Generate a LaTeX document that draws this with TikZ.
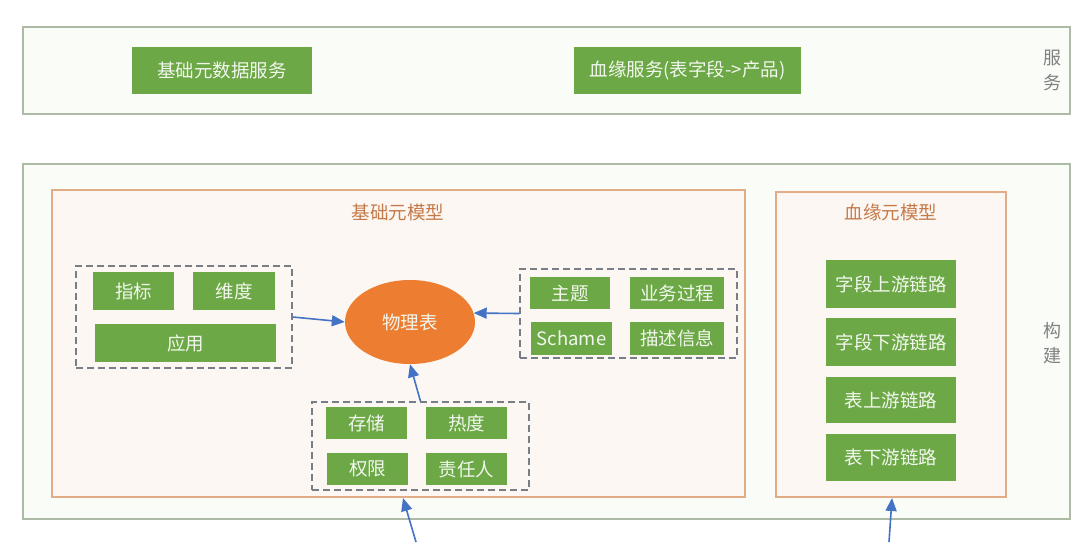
\documentclass[tikz,border=0pt]{standalone}
\usepackage{fontspec}
\setmainfont{Noto Sans CJK SC}
\usetikzlibrary{arrows.meta,shapes.geometric,calc}
\definecolor{gbox}{RGB}{108,168,70}
\definecolor{gtext}{RGB}{242,247,238}
\definecolor{panelfill}{RGB}{249,252,247}
\definecolor{panelline}{RGB}{172,186,166}
\definecolor{ofill}{RGB}{253,247,243}
\definecolor{oline}{RGB}{226,172,134}
\definecolor{otitle}{RGB}{196,122,72}
\definecolor{ell}{RGB}{237,125,49}
\definecolor{arrc}{RGB}{68,114,196}
\definecolor{sidec}{RGB}{128,128,128}
\definecolor{dashc}{RGB}{120,126,134}
\tikzset{
  gnode/.style={draw=none,fill=gbox,text=gtext,inner sep=0pt,font=\fontsize{18.5}{21}\selectfont},
  panel/.style={draw=panelline,fill=panelfill,line width=1.8pt},
  obox/.style={draw=oline,fill=ofill,line width=1.4pt},
  grp/.style={draw=dashc,line width=1.4pt,dash pattern=on 7pt off 4pt},
  ttl/.style={text=otitle,font=\fontsize{18.5}{21}\selectfont},
  side/.style={text=sidec,font=\fontsize{18}{25}\selectfont,align=center},
  arr/.style={draw=arrc,line width=1.6pt,-{Triangle[length=13pt,width=11pt]}}
}
\begin{document}
\begin{tikzpicture}[x=1pt,y=-1pt]
\useasboundingbox[fill=white] (0,0) rectangle (1086,542);
% top panel
\draw[panel] (23,27) rectangle (1070,114);
\node[gnode,minimum width=180pt,minimum height=47pt] (s1) at (222,70.5) {基础元数据服务};
\node[gnode,minimum width=227pt,minimum height=47pt] (s2) at (687.5,70.5) {血缘服务(表字段->产品)};
\node[side] (sv) at (1052,70) {服\\务};
% bottom panel
\draw[panel] (23,164) rectangle (1070,519);
\node[obox,minimum width=693pt,minimum height=307pt,inner sep=0pt] (A) at (398.5,343.5) {};
\node[ttl] (At) at (398,212) {基础元模型};
\node[obox,minimum width=230pt,minimum height=305pt,inner sep=0pt] (B) at (891,344.5) {};
\node[ttl] (Bt) at (891,212) {血缘元模型};
\node[side] (bv) at (1052,343) {构\\建};
% group 1
\node[grp,minimum width=216pt,minimum height=102pt,inner sep=0pt] (g1) at (184,317) {};
\node[gnode,minimum width=81pt,minimum height=38pt] (n1) at (133.5,291) {指标};
\node[gnode,minimum width=82pt,minimum height=38pt] (n2) at (234,291) {维度};
\node[gnode,minimum width=181pt,minimum height=38pt] (n3) at (185.5,343) {应用};
% ellipse
\node[ellipse,fill=ell,draw=none,minimum width=130pt,minimum height=84pt,inner sep=0pt,text=gtext,font=\fontsize{18.5}{21}\selectfont] (el) at (410,322) {物理表};
% group 2
\node[grp,minimum width=217pt,minimum height=89pt,inner sep=0pt] (g2) at (628.5,313.5) {};
\node[gnode,minimum width=80pt,minimum height=32pt] (m1) at (570,293) {主题};
\node[gnode,minimum width=94pt,minimum height=32pt] (m2) at (677,293) {业务过程};
\node[gnode,minimum width=81pt,minimum height=33pt] (m3) at (571.5,338.5) {Schame};
\node[gnode,minimum width=94pt,minimum height=33pt] (m4) at (677,338.5) {描述信息};
% group 3
\node[grp,minimum width=217pt,minimum height=88pt,inner sep=0pt] (g3) at (420.5,446) {};
\node[gnode,minimum width=81pt,minimum height=32pt] (k1) at (366.5,423) {存储};
\node[gnode,minimum width=81pt,minimum height=32pt] (k2) at (466.5,423) {热度};
\node[gnode,minimum width=81pt,minimum height=32pt] (k3) at (367.5,469) {权限};
\node[gnode,minimum width=81pt,minimum height=32pt] (k4) at (466.5,469) {责任人};
% right boxes
\node[gnode,minimum width=130pt,minimum height=48pt] (r1) at (891,284) {字段上游链路};
\node[gnode,minimum width=130pt,minimum height=48pt] (r2) at (891,342) {字段下游链路};
\node[gnode,minimum width=130pt,minimum height=46pt] (r3) at (891,400) {表上游链路};
\node[gnode,minimum width=130pt,minimum height=47pt] (r4) at (891,457.5) {表下游链路};
% arrows
\draw[arr] (g1.east) -- (el.west);
\draw[arr] (g2.west) -- (el.8);
\draw[arr] (g3.north) -- (el.south);
\coordinate (b1) at (416,542);
\coordinate (h1) at (403,498);
\coordinate (b2) at (889,542);
\coordinate (h2) at (892,498);
\draw[arr] (b1) -- (h1);
\draw[arr] (b2) -- (h2);
\end{tikzpicture}
\end{document}
